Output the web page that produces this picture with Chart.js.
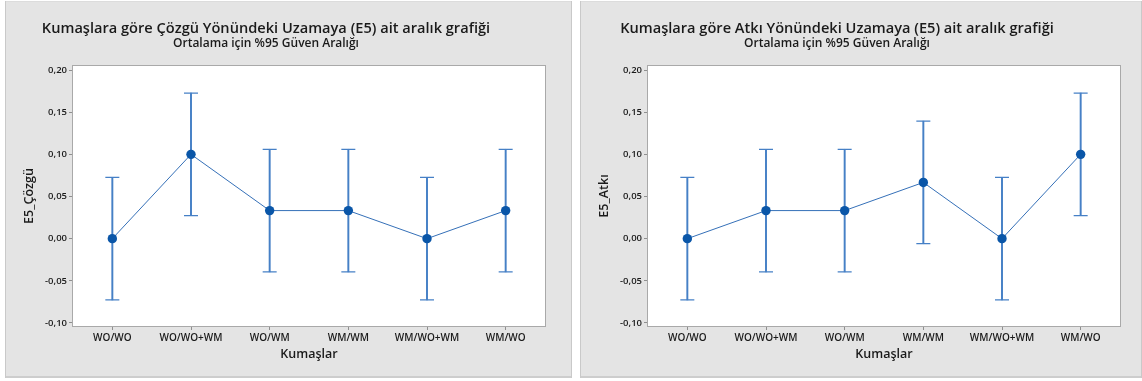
<!DOCTYPE html>
<html>
<head>
<meta charset="utf-8">
<script src="https://cdn.jsdelivr.net/npm/chart.js@4/dist/chart.umd.min.js"></script>
<style>
  html, body { margin: 0; padding: 0; background: #ffffff; }
  body { width: 1142px; height: 381px; position: relative; overflow: hidden; }
  .panel {
    position: absolute;
    background: #e4e4e4;
    box-shadow: inset 1px 0 #c9c9c9, inset -1px 0 #c9c9c9, inset 0 -2px #cdcdcd, inset 0 1px #dcdcdc;
  }
  .panel canvas { position: absolute; left: 0; top: 0; }
</style>
</head>
<body>
<div class="panel" id="panelA" style="left:5px; top:1px; width:567px; height:377px;">
  <canvas id="chartA" width="567" height="377"></canvas>
</div>
<div class="panel" id="panelB" style="left:580px; top:1px; width:562px; height:377px;">
  <canvas id="chartB" width="562" height="377"></canvas>
</div>
<script>
// Fabric combinations (x categories)
const fabrics = ['WO/WO', 'WO/WO+WM', 'WO/WM', 'WM/WM', 'WM/WO+WM', 'WM/WO'];

// Warp direction (Çözgü) – means and 95% confidence limits
const meanCozgu  = [0.0000, 0.1000, 0.0333, 0.0333, 0.0000, 0.0333];
const upperCozgu = [0.0727, 0.1727, 0.1060, 0.1060, 0.0727, 0.1060];
const lowerCozgu = [-0.0727, 0.0273, -0.0394, -0.0394, -0.0727, -0.0394];

// Weft direction (Atkı) – means and 95% confidence limits
const meanAtki  = [0.0000, 0.0333, 0.0333, 0.0667, 0.0000, 0.1000];
const upperAtki = [0.0727, 0.1060, 0.1060, 0.1394, 0.0727, 0.1727];
const lowerAtki = [-0.0727, -0.0394, -0.0394, -0.0060, -0.0727, 0.0273];

// Y axis tick values
const yTicks = [-0.10, -0.05, 0.00, 0.05, 0.10, 0.15, 0.20];

const FONT = "'Open Sans', 'Noto Sans', 'DejaVu Sans', sans-serif";
Chart.defaults.font.family = FONT;

const DOT = '#0a56a8';
const BAR = '#4680c6';
const LINK = '#3570b8';

const frame = {
  id: 'frame',
  beforeDraw(chart) {
    const { ctx, chartArea: a } = chart;
    ctx.save();
    ctx.fillStyle = '#ffffff';
    ctx.fillRect(a.left, a.top, a.right - a.left, a.bottom - a.top);
    ctx.restore();
  },
  beforeDatasetsDraw(chart) {
    const { ctx, chartArea: a } = chart;
    ctx.save();
    ctx.strokeStyle = '#a9a9a9';
    ctx.lineWidth = 1;
    ctx.strokeRect(Math.round(a.left) - 0.5, Math.round(a.top) - 0.5,
                   Math.round(a.right - a.left) + 1, Math.round(a.bottom - a.top) + 1);
    ctx.restore();
  },
  afterDraw(chart) {
    const o = chart.options.plugins.frame;
    const { ctx } = chart;
    ctx.save();
    ctx.fillStyle = '#1a1a1a';
    ctx.textAlign = 'center';
    ctx.textBaseline = 'alphabetic';
    ctx.font = "600 14.6px " + FONT;
    ctx.fillText(o.title, o.cx, 32);
    ctx.font = "600 12px " + FONT;
    ctx.fillText(o.subtitle, o.cx, 46);
    ctx.restore();
  }
};

function fmt(v) {
  return v.toFixed(2).replace('.', ',');
}

function makeChart(id, width, means, lows, highs, yTitle, title, subtitle, cx) {
  const chartRight = 540;
  return new Chart(document.getElementById(id), {
    type: 'bar',
    data: {
      labels: fabrics,
      datasets: [
        {
          type: 'line',
          data: means,
          borderColor: LINK,
          borderWidth: 1,
          pointRadius: 4.7,
          pointBackgroundColor: DOT,
          pointBorderColor: DOT,
          pointBorderWidth: 0,
          tension: 0,
          order: 0
        },
        {
          type: 'line',
          data: highs,
          showLine: false,
          pointStyle: 'line',
          pointRadius: 7,
          pointBorderColor: BAR,
          pointBorderWidth: 1.3,
          order: 1
        },
        {
          type: 'line',
          data: lows,
          showLine: false,
          pointStyle: 'line',
          pointRadius: 7,
          pointBorderColor: BAR,
          pointBorderWidth: 1.3,
          order: 1
        },
        {
          type: 'bar',
          data: lows.map((lo, i) => [lo, highs[i]]),
          backgroundColor: BAR,
          barThickness: 1.3,
          borderWidth: 0,
          order: 2
        }
      ]
    },
    options: {
      responsive: false,
      animation: false,
      events: [],
      layout: { padding: { left: 0, top: 65, right: width - chartRight, bottom: 0 } },
      plugins: {
        legend: { display: false },
        tooltip: { enabled: false },
        frame: { title, subtitle, cx }
      },
      scales: {
        x: {
          type: 'category',
          offset: true,
          afterFit(s) { s.height = 52; },
          grid: { drawOnChartArea: false, tickLength: 4, color: '#8f8f8f', offset: false },
          border: { display: false },
          ticks: {
            padding: 2,
            color: '#1a1a1a',
            font: { size: 10, weight: '600' },
            maxRotation: 0,
            autoSkip: false
          },
          title: {
            display: true,
            text: 'Kumaşlar',
            color: '#1a1a1a',
            font: { size: 12.5, weight: '600' },
            padding: { top: 0, bottom: 16 }
          }
        },
        y: {
          type: 'linear',
          min: -0.1036,
          max: 0.2048,
          afterFit(s) { s.width = 68; },
          afterBuildTicks(s) { s.ticks = yTicks.map(v => ({ value: v })); },
          grid: { drawOnChartArea: false, tickLength: 4, color: '#8f8f8f' },
          border: { display: false },
          ticks: {
            padding: 2,
            color: '#1a1a1a',
            font: { size: 9.5, weight: '600' },
            callback: v => fmt(v)
          },
          title: {
            display: true,
            text: yTitle,
            color: '#1a1a1a',
            font: { size: 12.5, weight: '600' },
            padding: { top: 17, bottom: 0 }
          }
        }
      }
    },
    plugins: [frame]
  });
}

makeChart('chartA', 567, meanCozgu, lowerCozgu, upperCozgu, 'E5_Çözgü',
  'Kumaşlara göre Çözgü Yönündeki Uzamaya (E5) ait aralık grafiği',
  'Ortalama için %95 Güven Aralığı', 261);

makeChart('chartB', 562, meanAtki, lowerAtki, upperAtki, 'E5_Atkı',
  'Kumaşlara göre Atkı Yönündeki Uzamaya (E5) ait aralık grafiği',
  'Ortalama için %95 Güven Aralığı', 257);
</script>
</body>
</html>
